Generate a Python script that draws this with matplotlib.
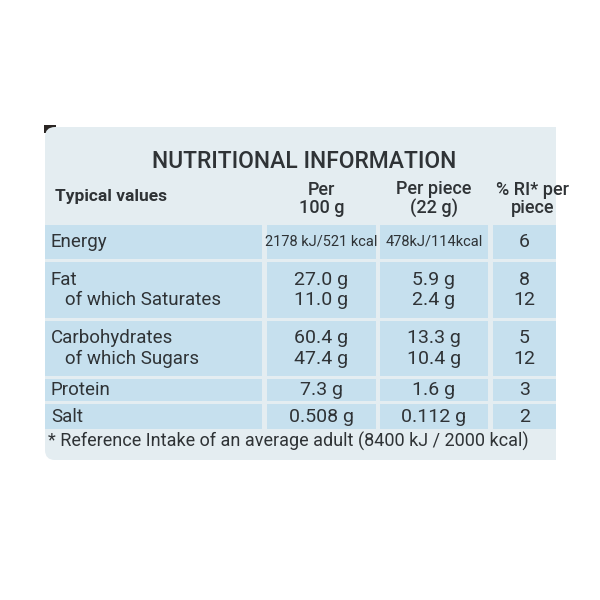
import matplotlib
matplotlib.use("Agg")
import matplotlib.pyplot as plt
from matplotlib.patches import Rectangle, FancyBboxPatch

# ── data ──
title = "NUTRITIONAL INFORMATION"
headers = ["Typical values", "Per\n100 g", "Per piece\n(22 g)", "% RI* per\npiece"]
row_labels = ["Energy", "Fat\n   of which Saturates", "Carbohydrates\n   of which Sugars", "Protein", "Salt"]
per100 = ["2178 kJ/521 kcal", "27.0 g\n11.0 g", "60.4 g\n47.4 g", "7.3 g", "0.508 g"]
perpiece = ["478kJ/114kcal", "5.9 g\n2.4 g", "13.3 g\n10.4 g", "1.6 g", "0.112 g"]
ri = ["6", "8\n12", "5\n12", "3", "2"]
footnote = "* Reference Intake of an average adult (8400 kJ / 2000 kcal)"

# layout in pixel coordinates
col_x = [(45, 262), (267, 376), (380, 488), (493, 556)]
row_y = [(225, 259), (262, 318), (321, 376), (379, 401), (404, 429)]

plt.rcParams["font.family"] = ["Roboto", "DejaVu Sans"]
TXT = "#2f3336"

fig = plt.figure(figsize=(6, 6), dpi=100)
ax = fig.add_axes([0, 0, 1, 1])
ax.set_xlim(0, 600)
ax.set_ylim(600, 0)
ax.axis("off")

# panel background (cut off at the right edge)
ax.add_patch(FancyBboxPatch((45, 127), 540, 333, boxstyle="round,pad=0,rounding_size=10",
                            facecolor="#e4edf1", edgecolor="none"))
ax.add_patch(Rectangle((556, 120), 40, 350, facecolor="white", edgecolor="none"))
ax.add_patch(Rectangle((44, 125), 12, 8, facecolor="#2b2624", edgecolor="none", zorder=0))

# cell backgrounds
for y0, y1 in row_y:
    for x0, x1 in col_x:
        ax.add_patch(Rectangle((x0, y0), x1 - x0, y1 - y0, facecolor="#c6e0ee", edgecolor="none"))

ax.text(304, 161, title, ha="center", va="center", fontsize=16.5, color=TXT, fontweight="medium")
ax.text(55, 197, headers[0], ha="left", va="center", fontsize=12.5,
        fontweight="bold", color=TXT)
for i, h in enumerate(headers[1:], start=1):
    cx = (col_x[i][0] + col_x[i][1]) / 2 + (8 if i == 3 else 0)
    ax.text(cx, 199, h, ha="center", va="center", fontsize=13, color=TXT,
            fontweight="medium", linespacing=1.05)

for r, (y0, y1) in enumerate(row_y):
    cy = (y0 + y1) / 2
    ax.text(51, cy, row_labels[r], ha="left", va="center", fontsize=13.5, color=TXT, linespacing=1.2)
    for c, vals in enumerate([per100, perpiece, ri], start=1):
        cx = (col_x[c][0] + col_x[c][1]) / 2
        fs = 10.5 if r == 0 and c < 3 else 14
        ax.text(cx, cy, vals[r], ha="center", va="center", fontsize=fs, color=TXT, linespacing=1.2)

ax.text(48, 441, footnote, ha="left", va="center", fontsize=13, color=TXT)

fig.savefig("out.png", dpi=100)
